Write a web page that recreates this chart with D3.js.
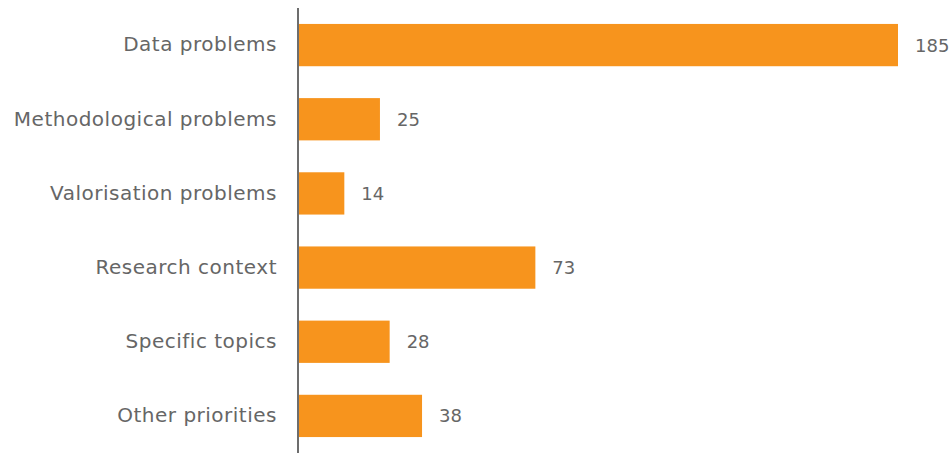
<!DOCTYPE html>
<html>
<head>
<meta charset="utf-8">
<script src="https://cdn.jsdelivr.net/npm/d3@7"></script>
<style>
  html, body { margin: 0; padding: 0; background: #fff; }
  svg { display: block; }
  text { font-family: "DejaVu Sans", sans-serif; fill: #666666; }
</style>
</head>
<body>
<svg id="chart" width="952" height="453"></svg>
<script>
const categories = [
  "Data problems",
  "Methodological problems",
  "Valorisation problems",
  "Research context",
  "Specific topics",
  "Other priorities"
];
const counts = [185, 25, 14, 73, 28, 38];

const width = 952, height = 453;
const margin = { top: 8, right: 54, bottom: 0, left: 299 };

const svg = d3.select("#chart");

const x = d3.scaleLinear()
  .domain([0, 185])
  .range([margin.left, 898]);

const y = d3.scaleBand()
  .domain(categories)
  .range([margin.top, height - margin.bottom])
  .paddingInner(0.43)
  .paddingOuter(0.215);

const data = categories.map((c, i) => ({ cat: c, val: counts[i] }));

// bars
svg.append("g")
  .selectAll("rect")
  .data(data)
  .join("rect")
  .attr("x", x(0))
  .attr("y", d => y(d.cat))
  .attr("width", d => x(d.val) - x(0))
  .attr("height", y.bandwidth())
  .attr("fill", "#F7941D");

// value labels
svg.append("g")
  .selectAll("text")
  .data(data)
  .join("text")
  .attr("x", d => x(d.val) + 17)
  .attr("y", d => y(d.cat) + y.bandwidth() / 2)
  .attr("dy", "0.36em")
  .attr("font-size", 18)
  .text(d => d.val);

// category axis
const axis = d3.axisLeft(y).tickSize(0).tickPadding(21);
const gAxis = svg.append("g")
  .attr("transform", `translate(${margin.left - 1},0)`)
  .call(axis);
gAxis.select(".domain")
  .attr("d", `M0,${margin.top}V${height}`)
  .attr("stroke", "#6d6d6d")
  .attr("stroke-width", 2);
gAxis.selectAll(".tick text")
  .attr("font-size", 20)
  .attr("letter-spacing", 0.5)
  .attr("font-family", null)
  .attr("fill", null);
</script>
</body>
</html>
